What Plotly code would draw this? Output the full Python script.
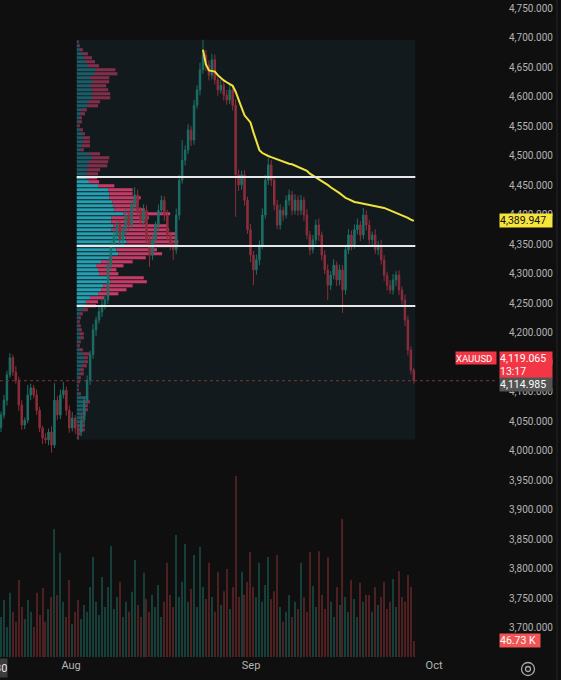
import plotly.graph_objects as go

# ---------------- data ----------------
first_open = 4040.0
closes = [4061, 4086, 4129, 4158, 4134, 4120, 4078, 4044, 4052, 4095,
          4107, 4095, 4069, 4039, 4022, 4019, 4032, 4010, 4086, 4061,
          4095, 4103, 4069, 4039, 4056, 4039, 4032, 4052, 4086, 4120,
          4163, 4205, 4222, 4236, 4248, 4256, 4315, 4349, 4366, 4383,
          4358, 4375, 4400, 4383, 4417, 4434, 4408, 4391, 4408, 4358,
          4332, 4358, 4383, 4408, 4425, 4400, 4366, 4349, 4341, 4400,
          4459, 4493, 4510, 4544, 4527, 4586, 4612, 4646, 4671, 4654,
          4637, 4663, 4629, 4612, 4620, 4603, 4595, 4612, 4586, 4468,
          4451, 4468, 4425, 4375, 4332, 4307, 4324, 4349, 4400, 4459,
          4485, 4459, 4417, 4383, 4408, 4400, 4425, 4434, 4408, 4425,
          4408, 4425, 4400, 4366, 4341, 4358, 4383, 4366, 4332, 4307,
          4281, 4298, 4315, 4290, 4307, 4273, 4341, 4366, 4349, 4375,
          4383, 4366, 4400, 4383, 4358, 4366, 4341, 4349, 4324, 4298,
          4281, 4273, 4290, 4298, 4273, 4256, 4222, 4171, 4137, 4119.065]
wick_up = [6, 9, 7, 8, 5, 10, 6, 8, 5, 17,
           7, 5, 9, 6, 4, 8, 6, 10, 29, 7,
           9, 14, 6, 8, 10, 5, 7, 9, 6, 8,
           7, 10, 6, 9, 12, 7, 8, 6, 10, 7,
           9, 6, 11, 8, 7, 13, 9, 6, 10, 8,
           7, 9, 6, 10, 8, 7, 9, 6, 8, 11,
           9, 34, 8, 10, 7, 9, 8, 12, 26, 9,
           8, 10, 9, 7, 10, 6, 9, 8, 7, 10,
           9, 7, 8, 6, 10, 7, 9, 8, 11, 9,
           12, 8, 7, 9, 10, 6, 8, 9, 7, 10,
           8, 9, 6, 10, 7, 8, 9, 11, 6, 8,
           9, 7, 10, 6, 9, 8, 7, 10, 8, 9,
           11, 7, 12, 8, 9, 6, 10, 7, 9, 8,
           6, 9, 10, 7, 8, 6, 9, 7, 6, 4]
wick_dn = [8, 6, 9, 5, 7, 6, 10, 8, 7, 5,
           9, 6, 8, 7, 10, 6, 9, 13, 5, 8,
           7, 6, 9, 8, 6, 10, 13, 7, 9, 6,
           8, 7, 10, 6, 9, 8, 7, 9, 6, 8,
           10, 7, 8, 9, 6, 8, 10, 7, 9, 12,
           20, 8, 7, 9, 6, 10, 8, 9, 17, 7,
           8, 6, 9, 7, 10, 8, 6, 9, 7, 10,
           9, 7, 8, 10, 6, 9, 8, 7, 9, 71,
           10, 8, 9, 7, 12, 26, 8, 9, 7, 6,
           8, 10, 9, 7, 8, 10, 6, 9, 8, 7,
           9, 8, 10, 7, 9, 6, 8, 10, 9, 7,
           25, 8, 7, 10, 9, 39, 8, 7, 9, 6,
           8, 10, 7, 9, 8, 10, 7, 9, 8, 10,
           9, 7, 8, 10, 9, 8, 10, 9, 7, 5]
volumes_k = [116, 165, 87, 186, 131, 102, 223, 145, 110, 165,
             131, 87, 186, 122, 200, 102, 139, 174, 371, 180,
             302, 160, 116, 223, 96, 131, 165, 110, 151, 131,
             203, 290, 160, 122, 232, 145, 203, 322, 139, 174,
             218, 116, 160, 131, 189, 281, 151, 116, 244, 168,
             131, 180, 145, 209, 116, 160, 273, 180, 145, 354,
             174, 218, 328, 160, 197, 296, 145, 319, 203, 168,
             273, 174, 131, 247, 151, 191, 255, 139, 203, 525,
             174, 247, 180, 218, 305, 203, 174, 273, 160, 209,
             290, 168, 191, 296, 145, 102, 131, 180, 116, 160,
             139, 273, 174, 131, 305, 206, 145, 307, 180, 139,
             290, 160, 116, 203, 151, 400, 174, 131, 223, 168,
             116, 215, 160, 180, 180, 131, 203, 151, 174, 218,
             139, 160, 226, 145, 249, 174, 160, 238, 203, 46.73]
vwap_start = 68
vwap = [4680, 4655, 4645, 4644, 4643, 4637, 4632, 4628, 4625, 4622,
        4619, 4609, 4594, 4582, 4569, 4563, 4557, 4540, 4524, 4510,
        4505, 4502, 4500, 4498, 4496, 4494, 4492, 4490, 4488, 4487,
        4486, 4484, 4481, 4479, 4477, 4475, 4470, 4467, 4464, 4461,
        4458, 4455, 4451, 4447, 4444, 4441, 4437, 4433, 4429, 4427,
        4424, 4422, 4421, 4420, 4419, 4419, 4418, 4417, 4416, 4415,
        4414, 4412, 4410, 4408, 4406, 4404, 4402, 4400, 4397, 4395,
        4392, 4389.947]
# visible-range volume profile, rows from top to bottom
prof_start = 26
prof_up = [1, 2, 3, 6, 7, 9, 11, 19, 17, 13,
           16, 13, 15, 15, 15, 11, 11, 5, 4, 3,
           2, 1, 3, 6, 6, 6, 5, 4, 12, 15,
           12, 11, 10, 10, 10, 12, 21, 31, 32, 32,
           35, 36, 37, 46, 34, 34, 36, 34, 47, 48,
           49, 47, 39, 41, 32, 24, 19, 21, 22, 32,
           33, 26, 24, 21, 13, 9, 9, 6, 3, 2,
           1, 2, 2, 3, 4, 2, 1, 3, 6, 7,
           7, 5, 4, 3, 2, 1, 1, 1, 2, 9,
           8, 7, 6, 5, 4, 3, 4, 4, 2, 1]
prof_dn = [1, 1, 3, 5, 8, 9, 11, 19, 23, 19,
           16, 16, 16, 18, 18, 12, 10, 5, 4, 2,
           3, 2, 3, 2, 7, 7, 8, 3, 11, 17,
           19, 19, 13, 11, 10, 10, 16, 24, 23, 31,
           26, 23, 30, 46, 37, 33, 54, 57, 50, 51,
           51, 53, 40, 43, 36, 31, 27, 18, 19, 34,
           36, 29, 25, 20, 14, 12, 10, 5, 3, 2,
           2, 2, 3, 4, 3, 2, 2, 3, 7, 4,
           4, 5, 3, 4, 2, 2, 1, 1, 2, 2,
           5, 4, 5, 4, 3, 4, 4, 4, 2, 1]
vah, poc, val = 4464.4, 4347.5, 4245.7
other_price = 4114.985
countdown = "13:17"
symbol = "XAUUSD"
price_ticks = list(range(3700, 4751, 50))
month_labels = ["Aug", "Sep", "Oct"]
month_pos = [23.6, 84.2, 145.8]

# ---------------- styling ----------------
FONT = "Roboto, sans-serif"
BG = "#0f0f0f"
BOX_BG = "#121a1d"
UP, DN = "#1c7067", "#8e2d3c"
VOL_UP, VOL_DN = "#163f3a", "#4f2022"
W, H = 561, 680
ML, MR, MT, MB = 0, 63, 0, 23
PW, PH = W - ML - MR, H - MT - MB

n = len(closes)
idx = list(range(n))
opens = [first_open] + closes[:-1]
highs = [max(o, c) + w for o, c, w in zip(opens, closes, wick_up)]
lows = [min(o, c) - w for o, c, w in zip(opens, closes, wick_dn)]

fig = go.Figure()

# volume pane
vol_colors = [VOL_UP if c >= o else VOL_DN for o, c in zip(opens, closes)]
fig.add_trace(go.Bar(x=idx, y=volumes_k, marker_color=vol_colors, marker_line_width=0,
                     width=0.38, yaxis="y2", hoverinfo="skip"))

# candles
fig.add_trace(go.Candlestick(
    x=idx, open=opens, high=highs, low=lows, close=closes,
    increasing=dict(line=dict(color=UP, width=1), fillcolor=UP),
    decreasing=dict(line=dict(color=DN, width=1), fillcolor=DN),
    whiskerwidth=0, hoverinfo="skip"))

# volume profile
top = max(highs[prof_start:])
bot = min(lows[prof_start:])
nrows = len(prof_up)
row = (top - bot) / nrows
centers = [top - (k + 0.5) * row for k in range(nrows)]
box_left, box_right = prof_start - 0.5, n - 0.5
scale = 0.30 * (box_right - box_left) / max(u + d for u, d in zip(prof_up, prof_dn))
in_va = [val - 1 <= p <= vah for p in centers]
up_cols = ["rgba(40,184,204,0.85)" if v else "rgba(40,184,204,0.42)" for v in in_va]
dn_cols = ["rgba(230,66,116,0.85)" if v else "rgba(230,66,116,0.52)" for v in in_va]
fig.add_trace(go.Bar(y=centers, x=[u * scale for u in prof_up], base=box_left,
                     orientation="h", width=row * 0.78, marker_color=up_cols,
                     marker_line_width=0, hoverinfo="skip"))
fig.add_trace(go.Bar(y=centers, x=[d * scale for d in prof_dn],
                     base=[box_left + u * scale for u in prof_up],
                     orientation="h", width=row * 0.78, marker_color=dn_cols,
                     marker_line_width=0, hoverinfo="skip"))

# anchored VWAP
fig.add_trace(go.Scatter(x=idx[vwap_start:], y=vwap, mode="lines",
                         line=dict(color="#f2e33c", width=2), hoverinfo="skip"))

# box background + value-area lines
fig.add_shape(type="rect", xref="x", yref="y", x0=box_left, x1=box_right, y0=bot, y1=top,
              fillcolor=BOX_BG, line_width=0, layer="below")
for lv in (vah, poc, val):
    fig.add_shape(type="line", xref="x", yref="y", x0=box_left, x1=box_right, y0=lv, y1=lv,
                  line=dict(color="#e8e8e8", width=2))
# last price dotted line
fig.add_shape(type="line", xref="paper", yref="y", x0=0, x1=1, y0=closes[-1], y1=closes[-1],
              line=dict(color="#7e3535", width=1, dash="dot"))


def px_x(px):
    return (px - ML) / PW


def px_y(py):
    return (MT + PH - py) / PH


# price-scale separator
fig.add_shape(type="line", xref="paper", yref="paper", x0=px_x(557), x1=px_x(557),
              y0=px_y(H), y1=px_y(0), line=dict(color="#262626", width=1))
# settings icon
fig.add_shape(type="circle", xref="paper", yref="paper", x0=px_x(521.5), x1=px_x(534.5),
              y0=px_y(675.5), y1=px_y(662.5), line=dict(color="#a8a8a8", width=1.3))
fig.add_shape(type="circle", xref="paper", yref="paper", x0=px_x(525.5), x1=px_x(530.5),
              y0=px_y(671.5), y1=px_y(666.5), line=dict(color="#a8a8a8", width=1.3))


def label(text, y, yref, bg, fg, yshift=0, width=52, height=13, x=1.0, xanchor="left",
          xshift=1, size=10.5):
    fig.add_annotation(x=x, xref="paper", xanchor=xanchor, xshift=xshift, y=y, yref=yref,
                       yanchor="middle", yshift=yshift, text=text, showarrow=False,
                       bgcolor=bg, font=dict(color=fg, size=size, family=FONT),
                       width=width, height=height, align="left", borderpad=0)


label(f"{vwap[-1]:,.3f}", vwap[-1], "y", "#f5e43a", "#111111")
label(f"{closes[-1]:,.3f}<br>{countdown}", closes[-1], "y", "#f23645", "#ffffff",
      yshift=16, height=26)
label(symbol, closes[-1], "y", "#f23645", "#ffffff", yshift=23, width=40, height=12,
      xanchor="right", xshift=-1, size=9.5)
label(f"{other_price:,.3f}", other_price, "y", "#545454", "#ffffff", yshift=-1)
label(f"{volumes_k[-1]:.2f} K", volumes_k[-1], "y2", "#f05454", "#ffffff", width=40)
fig.add_annotation(x=px_x(8), xref="paper", xanchor="right", y=px_y(667.5), yref="paper",
                   yanchor="middle", text="30", showarrow=False, bgcolor="#3c3c3c",
                   font=dict(color="#e8e8e8", size=11, family=FONT), height=18, borderpad=0)

price_top = 4764.4
price_bot = 3650.8
fig.update_layout(
    width=W, height=H, margin=dict(l=ML, r=MR, t=MT, b=MB),
    paper_bgcolor=BG, plot_bgcolor=BG, showlegend=False, barmode="overlay",
    font=dict(family=FONT, color="#b4b4b4", size=11),
    xaxis=dict(range=[-0.337, 167.34], showgrid=False, zeroline=False, showline=False,
               rangeslider=dict(visible=False), tickvals=month_pos, ticktext=month_labels,
               ticks="", tickfont=dict(size=11, color="#b4b4b4")),
    yaxis=dict(side="right", range=[price_bot, price_top], showgrid=False, zeroline=False,
               tickvals=price_ticks, tickformat=",.3f", ticks="outside", ticklen=8,
               tickcolor=BG, tickfont=dict(size=10, color="#b4b4b4")),
    yaxis2=dict(overlaying="y", range=[0, PH * 2.9], visible=False, showgrid=False),
)
fig.write_html("out.html", config={"displayModeBar": False},
               post_script="document.body.style.margin='0';document.body.style.background='#0f0f0f';")
